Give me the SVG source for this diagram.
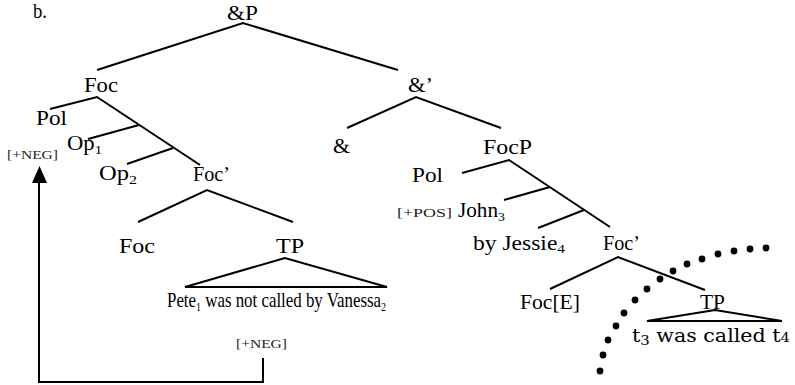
<svg xmlns="http://www.w3.org/2000/svg" width="795" height="385" viewBox="0 0 795 385" font-family="'Liberation Serif', 'Times New Roman', Times, serif">
  <style>
    text { font-family: 'Liberation Serif', 'Times New Roman', Times, serif; font-size: 20px; fill: #000; }
    text.small { font-size: 13px; fill: #222; }
    text.big { font-size: 22px; }
    tspan.sub { font-size: 13px; }
    text.alt { font-family: 'DejaVu Serif', 'Liberation Serif', serif; font-size: 18px; }
    .edge { stroke: #000; stroke-width: 2; fill: none; }
    .dot { fill: #000; }
  </style>

  <text x="33" y="18" textLength="14" lengthAdjust="spacingAndGlyphs">b.</text>

  <!-- tree edges -->
  <g id="connectors">
    <polyline class="edge" points="97,70 243,23 398,70"/>
    <polyline class="edge" points="50,109 97,97 200,165"/>
    <line class="edge" x1="139" y1="125" x2="88" y2="139"/>
    <line class="edge" x1="173" y1="148" x2="127" y2="164"/>
    <polyline class="edge" points="347,128 416,97 501,128"/>
    <polyline class="edge" points="462,173 509,160 610,227"/>
    <line class="edge" x1="550" y1="187" x2="504" y2="200"/>
    <line class="edge" x1="584" y1="210" x2="538" y2="228"/>
    <polyline class="edge" points="138,222 207,190 293,222"/>
    <polygon class="edge" points="285,258 185,287 387,287"/>
    <polyline class="edge" points="550,289 618,257 705,290"/>
    <polygon class="edge" points="715,310 647,321 782,321"/>
    <!-- movement path of the [+NEG] feature -->
    <path class="edge" d="M263,358 V382 H39 V180"/>
    <polygon points="39.5,166 32,183 47,183" fill="#000"/>
  </g>

  <!-- ellipsis boundary -->
  <g id="ellipsis-boundary">
    <circle class="dot" cx="766" cy="248" r="3.4"/>
    <circle class="dot" cx="750" cy="249" r="3.4"/>
    <circle class="dot" cx="734" cy="251" r="3.4"/>
    <circle class="dot" cx="718" cy="254" r="3.4"/>
    <circle class="dot" cx="702" cy="259" r="3.4"/>
    <circle class="dot" cx="687" cy="264" r="3.4"/>
    <circle class="dot" cx="673" cy="271" r="3.4"/>
    <circle class="dot" cx="660" cy="279" r="3.4"/>
    <circle class="dot" cx="647" cy="289" r="3.4"/>
    <circle class="dot" cx="635" cy="300" r="3.4"/>
    <circle class="dot" cx="624" cy="313" r="3.4"/>
    <circle class="dot" cx="616" cy="326" r="3.4"/>
    <circle class="dot" cx="608" cy="340" r="3.4"/>
    <circle class="dot" cx="603" cy="355" r="3.4"/>
    <circle class="dot" cx="600" cy="371" r="3.4"/>
  </g>

  <!-- nodes -->
  <g id="andP"><text x="227" y="20" textLength="31" lengthAdjust="spacingAndGlyphs">&amp;P</text></g>
  <g id="foc-top"><text x="84" y="92" textLength="34" lengthAdjust="spacingAndGlyphs">Foc</text></g>
  <g id="and-bar"><text x="408" y="92" textLength="25" lengthAdjust="spacingAndGlyphs">&amp;’</text></g>
  <g id="pol-left"><text x="36" y="125" textLength="31" lengthAdjust="spacingAndGlyphs">Pol</text></g>
  <g id="neg-feature"><text class="small" x="7" y="159" textLength="51" lengthAdjust="spacingAndGlyphs">[+NEG]</text></g>
  <g id="op1"><text x="67" y="150" textLength="35" lengthAdjust="spacingAndGlyphs">Op<tspan class="sub" dy="4">1</tspan></text></g>
  <g id="op2"><text x="99" y="180" textLength="38" lengthAdjust="spacingAndGlyphs">Op<tspan class="sub" dy="4">2</tspan></text></g>
  <g id="and-head"><text x="333" y="153" textLength="17" lengthAdjust="spacingAndGlyphs">&amp;</text></g>
  <g id="focP"><text x="483" y="154" textLength="49" lengthAdjust="spacingAndGlyphs">FocP</text></g>
  <g id="foc-bar-left"><text x="193" y="181" textLength="37" lengthAdjust="spacingAndGlyphs">Foc’</text></g>
  <g id="pol-right"><text x="412" y="182" textLength="31" lengthAdjust="spacingAndGlyphs">Pol</text></g>
  <g id="pos-feature"><text class="small" x="397" y="217" textLength="55" lengthAdjust="spacingAndGlyphs">[+POS]</text></g>
  <g id="john"><text x="458" y="217" textLength="47" lengthAdjust="spacingAndGlyphs">John<tspan class="sub" dy="4">3</tspan></text></g>
  <g id="by-jessie"><text x="473" y="250" textLength="92" lengthAdjust="spacingAndGlyphs">by Jessie<tspan class="sub" dy="3">4</tspan></text></g>
  <g id="foc-bar-right"><text x="603" y="250" textLength="37" lengthAdjust="spacingAndGlyphs">Foc’</text></g>
  <g id="foc-head-left"><text x="119" y="253" textLength="36" lengthAdjust="spacingAndGlyphs">Foc</text></g>
  <g id="tp-left"><text x="276" y="253" textLength="28" lengthAdjust="spacingAndGlyphs">TP</text></g>
  <g id="tp-left-content"><text class="big" x="167" y="307" textLength="219" lengthAdjust="spacingAndGlyphs">Pete<tspan class="sub" dy="4">1</tspan><tspan dy="-4"> was not called by Vanessa</tspan><tspan class="sub" dy="4">2</tspan></text></g>
  <g id="neg-origin"><text class="small" x="236" y="348" textLength="51" lengthAdjust="spacingAndGlyphs">[+NEG]</text></g>
  <g id="foc-e"><text x="520" y="309" textLength="60" lengthAdjust="spacingAndGlyphs">Foc[E]</text></g>
  <g id="tp-right"><text x="700" y="309" textLength="25" lengthAdjust="spacingAndGlyphs">TP</text></g>
  <g id="tp-right-content"><text class="alt" x="632" y="342" textLength="158" lengthAdjust="spacingAndGlyphs">t<tspan class="sub" dy="3">3</tspan><tspan dy="-3"> was called t</tspan><tspan class="sub">4</tspan></text></g>
</svg>
